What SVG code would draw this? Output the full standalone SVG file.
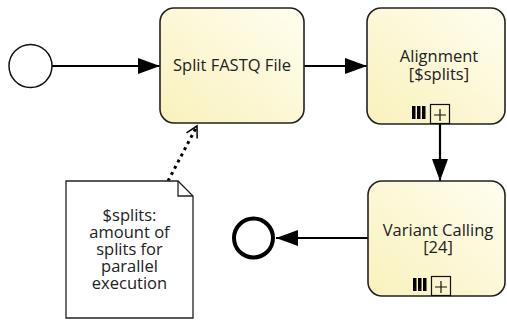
<svg xmlns="http://www.w3.org/2000/svg" width="507" height="320" viewBox="0 0 507 320">
  <style>
    .task { stroke: #222; stroke-width: 1.6; fill: url(#taskFill); }
    .label { font-family: "Open Sans", "DejaVu Sans", sans-serif; font-size: 16.5px; fill: #222; text-anchor: middle; }
    .flow { stroke: #000; stroke-width: 2.2; fill: none; }
    .marker-box { fill: none; stroke: #111; stroke-width: 1.2; }
  </style>
  <defs>
    <linearGradient id="taskFill" x1="1" y1="0" x2="0" y2="1">
      <stop offset="0" stop-color="#fffef0"/>
      <stop offset="1" stop-color="#f9f1bc"/>
    </linearGradient>
    <marker id="arrow" viewBox="0 0 22 16" refX="22" refY="8" markerWidth="22" markerHeight="16" markerUnits="userSpaceOnUse" orient="auto">
      <path d="M0,0 L22,8 L0,16 Z" fill="#000"/>
    </marker>
    <marker id="openArrow" viewBox="0 0 14 14" refX="12" refY="7" markerWidth="14" markerHeight="14" markerUnits="userSpaceOnUse" orient="auto">
      <path d="M1,1 L12,7 L1,13" fill="none" stroke="#000" stroke-width="1.5"/>
    </marker>
  </defs>

  <!-- sequence flows and association -->
  <g id="connectors">
    <line class="flow" x1="52" y1="66" x2="160" y2="66" marker-end="url(#arrow)"/>
    <line class="flow" x1="304" y1="66" x2="367" y2="66" marker-end="url(#arrow)"/>
    <line class="flow" x1="440" y1="124" x2="440" y2="181" marker-end="url(#arrow)"/>
    <line class="flow" x1="368" y1="238" x2="276" y2="238" marker-end="url(#arrow)"/>
    <line x1="168" y1="181" x2="197" y2="126" stroke="#000" stroke-width="3" stroke-dasharray="3 4" marker-end="url(#openArrow)"/>
  </g>

  <!-- start event -->
  <g id="start">
    <circle cx="30.5" cy="66" r="21.5" fill="#fff" stroke="#111" stroke-width="1.5"/>
  </g>

  <!-- split task -->
  <g id="split">
    <rect class="task" x="160" y="8" width="144" height="115" rx="14"/>
    <text class="label" x="232" y="71">Split FASTQ File</text>
  </g>

  <!-- alignment sub-process, parallel multi-instance -->
  <g id="alignment">
    <rect class="task" x="367" y="8" width="138" height="116" rx="14"/>
    <text class="label" x="439" y="62">Alignment</text>
    <text class="label" x="439" y="80">[$splits]</text>
    <g fill="#000">
      <rect x="412" y="106" width="3.5" height="13"/>
      <rect x="417" y="106" width="3.5" height="13"/>
      <rect x="422" y="106" width="3.5" height="13"/>
    </g>
    <rect class="marker-box" x="430.5" y="104.5" width="19" height="19"/>
    <path d="M434,115 H446 M440,109 V121" stroke="#111" stroke-width="1.2"/>
  </g>

  <!-- variant calling sub-process, parallel multi-instance -->
  <g id="variant">
    <rect class="task" x="368" y="181" width="137" height="115" rx="14"/>
    <text class="label" x="438" y="236">Variant Calling</text>
    <text class="label" x="438" y="253">[24]</text>
    <g fill="#000">
      <rect x="413" y="278" width="3.5" height="13"/>
      <rect x="418" y="278" width="3.5" height="13"/>
      <rect x="423" y="278" width="3.5" height="13"/>
    </g>
    <rect class="marker-box" x="431.5" y="276.5" width="19" height="19"/>
    <path d="M435,287 H447 M441,281 V293" stroke="#111" stroke-width="1.2"/>
  </g>

  <!-- end event -->
  <g id="end">
    <circle cx="253.5" cy="238" r="19.5" fill="#fff" stroke="#000" stroke-width="4"/>
  </g>

  <!-- text annotation -->
  <g id="note">
    <path d="M66,181 H178 L193,196 V318 H66 Z" fill="#fff" stroke="#222" stroke-width="1.3"/>
    <path d="M178,181 V196 H193" fill="none" stroke="#222" stroke-width="1.3"/>
    <text class="label" x="129.5" y="221">$splits:</text>
    <text class="label" x="129.5" y="238">amount of</text>
    <text class="label" x="129.5" y="255">splits for</text>
    <text class="label" x="129.5" y="272">parallel</text>
    <text class="label" x="129.5" y="289">execution</text>
  </g>
</svg>
